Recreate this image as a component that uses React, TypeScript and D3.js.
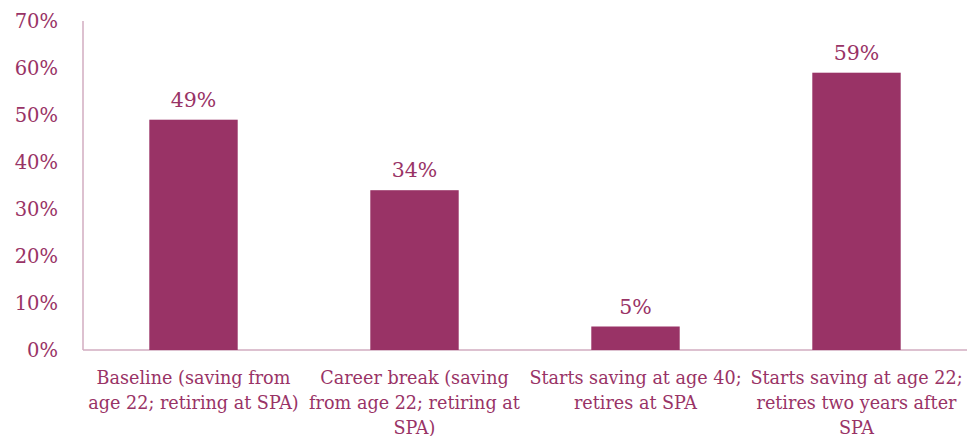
import React from "react";
import * as d3 from "d3";

const categories: string[][] = [
  ["Baseline (saving from", "age 22; retiring at SPA)"],
  ["Career break (saving", "from age 22; retiring at", "SPA)"],
  ["Starts saving at age 40;", "retires at SPA"],
  ["Starts saving at age 22;", "retires two years after", "SPA"],
];
const values: number[] = [49, 34, 5, 59];
const yTicks: number[] = [0, 10, 20, 30, 40, 50, 60, 70];

const W = 970;
const H = 436;
const margin = { left: 83, right: 3, top: 21, bottom: 86 };
const barColor = "#993366";
const textColor = "#993366";
const axisColor = "#d2adc0";
const font = "'DejaVu Serif', serif";

export default function App() {
  const x = d3
    .scaleBand<number>()
    .domain(values.map((_, i) => i))
    .range([margin.left, W - margin.right])
    .paddingInner(0.6)
    .paddingOuter(0.3);
  const y = d3
    .scaleLinear()
    .domain([0, 70])
    .range([H - margin.bottom, margin.top]);
  return (
    <svg
      width={W}
      height={H}
      style={{ position: "absolute", left: 0, top: 0, background: "#fff" }}
    >
      <line x1={margin.left} x2={margin.left} y1={y(70)} y2={y(0)} stroke={axisColor} strokeWidth={1.5} />
      <line x1={margin.left} x2={W - margin.right} y1={y(0)} y2={y(0)} stroke={axisColor} strokeWidth={1.5} />
      {yTicks.map((t) => (
        <text
          key={t}
          x={58}
          y={y(t)}
          dy="0.35em"
          textAnchor="end"
          fontFamily={font}
          fontSize={19.5}
          fill={textColor}
        >
          {t}%
        </text>
      ))}
      {values.map((v, i) => (
        <g key={i}>
          <rect x={x(i)} y={y(v)} width={x.bandwidth()} height={y(0) - y(v)} fill={barColor} />
          <text
            x={(x(i) as number) + x.bandwidth() / 2}
            y={y(v) - 13}
            textAnchor="middle"
            fontFamily={font}
            fontSize={20.5}
            fill={textColor}
          >
            {v}%
          </text>
          {categories[i].map((line, j) => (
            <text
              key={j}
              x={(x(i) as number) + x.bandwidth() / 2}
              y={384 + j * 25}
              textAnchor="middle"
              fontFamily={font}
              fontSize={17.6}
              fill={textColor}
            >
              {line}
            </text>
          ))}
        </g>
      ))}
    </svg>
  );
}
